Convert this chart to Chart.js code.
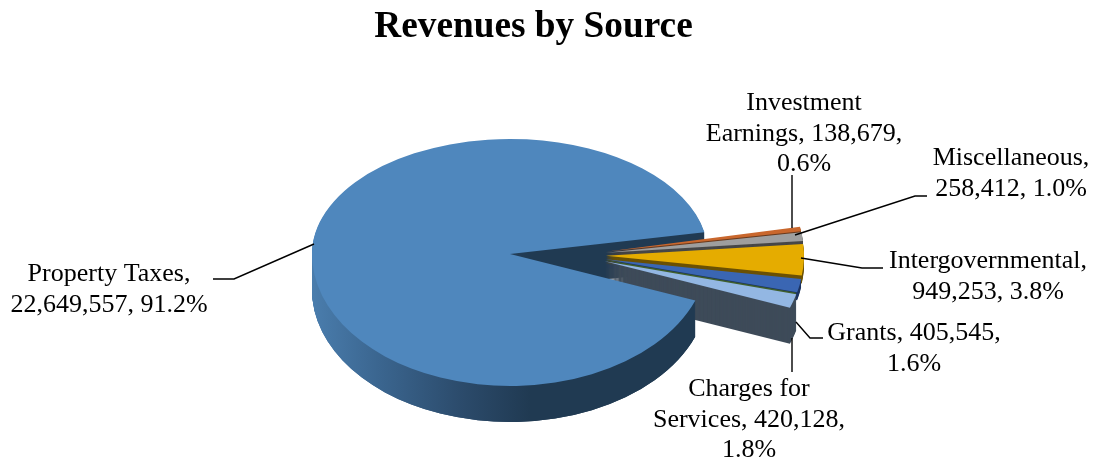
<!DOCTYPE html>
<html>
<head>
<meta charset="utf-8">
<title>Revenues by Source</title>
<script src="https://cdn.jsdelivr.net/npm/chart.js@4"></script>
<style>
    html, body { margin: 0; padding: 0; background: #fff; }
    #wrap { width: 1093px; height: 459px; }
</style>
</head>
<body>
<div id="wrap"><canvas id="revenueChart" width="1093" height="459"></canvas></div>
<script>
const categories = ['Property Taxes', 'Investment Earnings', 'Miscellaneous', 'Intergovernmental', 'Grants', 'Charges for Services'];
const revenues = [22649557, 138679, 258412, 949253, 405545, 420128];
const labelLines = [
    ['Property Taxes,', '22,649,557, 91.2%'],
    ['Investment', 'Earnings, 138,679,', '0.6%'],
    ['Miscellaneous,', '258,412, 1.0%'],
    ['Intergovernmental,', '949,253, 3.8%'],
    ['Grants, 405,545,', '1.6%'],
    ['Charges for', 'Services, 420,128,', '1.8%']
];
const topColors = ['#4f87bd', '#c9672d', '#9e9e9e', '#e5ac00', '#3a66b3', '#93b7e3'];
const sideColors = ['#203a52', '#6b3a1c', '#474747', '#6b5104', '#1c3460', '#3e4b59'];

// where the pie sits on screen (flattened circle + extrusion)
// the back half is flatter than the front, the original has perspective
const PIE_X = 510, PIE_Y = 254, RADIUS = 198, DEPTH = 36;
const SQUASH = 0.667, SQUASH_BACK = 0.581;
// the small slices are pulled out as a group, with a little fan on top
const GROUP_X = 66, GROUP_Y = 1.2, FAN = 30;
// upper small slices only show a sliver of wall, keep their rims out of sight
const SHORT_WALL = 8;

// label anchor: centre x, first baseline
const labelPos = [[109, 281], [804, 110], [1011, 165], [988, 268], [914, 340], [749, 396]];
const leaders = [
    [[213, 279], [234, 279], [314, 244]],
    [[792, 175], [792, 228]],
    [[927, 196], [915, 196], [795, 235]],
    [[801, 258], [862, 268], [883, 268]],
    [[796, 322], [810, 338], [823, 338]],
    [[792, 338], [792, 372]]
];

function paintArc(ctx, arc, fill, dx, dy, squash) {
    const opts = arc.options;
    ctx.save();
    ctx.translate(dx, dy);
    ctx.scale(1, squash);
    ctx.translate(-arc.x, -arc.y);
    arc.options = Object.assign({}, opts, { backgroundColor: typeof fill === 'function' ? fill(ctx, arc) : fill });
    arc.draw(ctx);
    arc.options = opts;
    ctx.restore();
}

// big slice, split at its centre line so both halves get their own flattening
function paintBig(chart, arc, fill, d) {
    const ctx = chart.ctx;
    const y = PIE_Y + d;
    ctx.save();
    ctx.beginPath();
    ctx.rect(0, 0, chart.width, y);
    ctx.clip();
    paintArc(ctx, arc, fill, PIE_X, y, SQUASH_BACK);
    ctx.restore();
    ctx.save();
    ctx.beginPath();
    ctx.rect(0, y, chart.width, chart.height - y);
    ctx.clip();
    paintArc(ctx, arc, fill, PIE_X, y, SQUASH);
    ctx.restore();
}

function bigSide(ctx, arc) {
    const g = ctx.createLinearGradient(arc.x - RADIUS, 0, arc.x + 20, 0);
    g.addColorStop(0, '#4a7dad');
    g.addColorStop(0.3, '#3b6690');
    g.addColorStop(0.7, '#2b4a6a');
    g.addColorStop(1, sideColors[0]);
    return g;
}

const pie3d = {
    id: 'pie3d',
    beforeDatasetDraw() {
        return false; // painted below, library only does the geometry
    },
    afterDatasetsDraw(chart) {
        const ctx = chart.ctx;
        const arcs = chart.getDatasetMeta(0).data;
        const big = arcs[0];

        // big slice walls go first, the cut wall shows through the gap
        for (let d = DEPTH; d > 0; d--) paintBig(chart, big, bigSide, d);

        // small slices, top to bottom so lower ones cover the walls above
        for (let i = 1; i < arcs.length; i++) {
            const mid = (arcs[i].startAngle + arcs[i].endAngle) / 2;
            const x = PIE_X + GROUP_X + FAN * Math.cos(mid);
            const y = PIE_Y + GROUP_Y + FAN * SQUASH * Math.sin(mid);
            const wall = i < arcs.length - 1 ? SHORT_WALL : DEPTH;
            for (let d = wall; d > 0; d--) paintArc(ctx, arcs[i], sideColors[i], x, y + d, SQUASH);
            // thin dark green seam above the last slice
            if (i === arcs.length - 1) paintArc(ctx, arcs[i], '#3f5f2c', x, y - 1.5, SQUASH);
            paintArc(ctx, arcs[i], topColors[i], x, y, SQUASH);
        }

        // rim of the big slice again, only under the lower cut edge
        const a = big.startAngle;
        ctx.save();
        ctx.beginPath();
        ctx.moveTo(PIE_X, PIE_Y);
        ctx.lineTo(PIE_X + 240 * Math.cos(a), PIE_Y + 240 * SQUASH * Math.sin(a));
        ctx.lineTo(PIE_X + 240 * Math.cos(a), chart.height);
        ctx.lineTo(0, chart.height);
        ctx.lineTo(0, PIE_Y);
        ctx.closePath();
        ctx.clip();
        for (let d = DEPTH; d > 0; d--) paintBig(chart, big, bigSide, d);
        ctx.restore();
        paintBig(chart, big, topColors[0], 0);

        // leader lines
        ctx.save();
        ctx.strokeStyle = '#000';
        ctx.lineWidth = 1.4;
        leaders.forEach(pts => {
            ctx.beginPath();
            pts.forEach((p, n) => n ? ctx.lineTo(p[0], p[1]) : ctx.moveTo(p[0], p[1]));
            ctx.stroke();
        });

        // data labels
        ctx.fillStyle = '#000';
        ctx.font = '26px "Liberation Serif"';
        ctx.textAlign = 'center';
        ctx.textBaseline = 'alphabetic';
        labelLines.forEach((lines, i) => {
            lines.forEach((txt, n) => ctx.fillText(txt, labelPos[i][0], labelPos[i][1] + n * 30.5));
        });
        ctx.restore();
    }
};

new Chart(document.getElementById('revenueChart'), {
    type: 'pie',
    data: {
        labels: categories,
        datasets: [{
            data: revenues,
            backgroundColor: topColors,
            borderWidth: 0,
            radius: RADIUS,
            rotation: 110.6
        }]
    },
    options: {
        responsive: false,
        animation: false,
        layout: { padding: { right: 26 } },
        plugins: {
            legend: { display: false },
            tooltip: { enabled: false },
            title: {
                display: true,
                text: 'Revenues by Source',
                color: '#000',
                font: { family: '"Liberation Serif"', size: 37.3, weight: 'bold' },
                padding: { top: 5, bottom: 8 }
            }
        }
    },
    plugins: [pie3d]
});
</script>
</body>
</html>
